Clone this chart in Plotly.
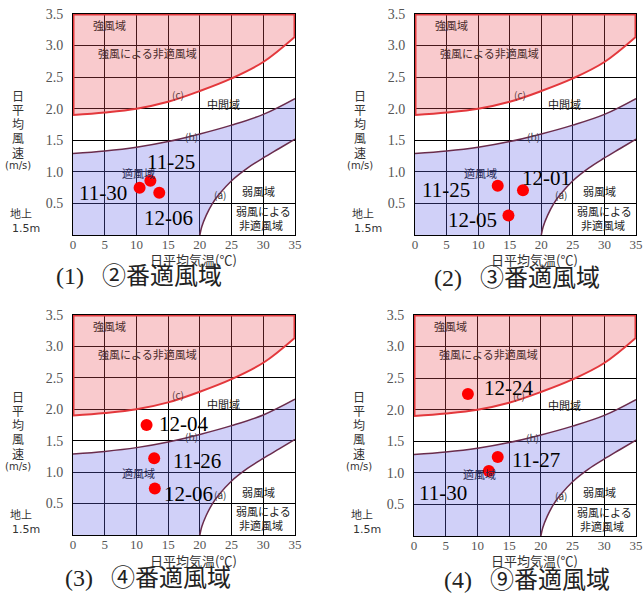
import plotly.graph_objects as go

# ---------------- data ----------------
curve_x = [0, 5, 10, 15, 20, 25, 30, 35]
curve_c_y = [1.90, 1.94, 2.00, 2.11, 2.28, 2.48, 2.74, 3.14]
curve_b_y = [1.29, 1.33, 1.39, 1.48, 1.60, 1.74, 1.91, 2.16]
curve_a_x = [20, 20.3, 21, 22, 23, 25, 27.5, 30, 32.5, 35]
curve_a_y = [0, 0.13, 0.31, 0.50, 0.64, 0.86, 1.06, 1.22, 1.37, 1.52]

x_ticks = [0, 5, 10, 15, 20, 25, 30, 35]
y_ticks = [0.5, 1.0, 1.5, 2.0, 2.5, 3.0, 3.5]

captions = ["(1)\u2002\u2005②番適風域", "(2)\u2002\u2005③番適風域",
            "(3)\u2002\u2005④番適風域", "(4)\u2002\u2005⑨番適風域"]

p1_dates = ["11-30", "11-25", "12-06"]
p1_temp = [10.5, 12.2, 13.6]
p1_wind = [0.75, 0.86, 0.67]

p2_dates = ["11-25", "12-01", "12-05"]
p2_temp = [13.1, 17.1, 14.8]
p2_wind = [0.78, 0.71, 0.31]

p3_dates = ["12-04", "11-26", "12-06"]
p3_temp = [11.6, 12.8, 12.9]
p3_wind = [1.75, 1.22, 0.74]

p4_dates = ["12-24", "11-27", "11-30"]
p4_temp = [8.5, 13.2, 11.8]
p4_wind = [2.25, 1.25, 1.03]

# label placement (positions, data units)
p1_lab = [(4.7, 0.67), (15.5, 1.15), (15.0, 0.27)]
p2_lab = [(4.9, 0.72), (20.9, 0.91), (9.1, 0.24)]
p3_lab = [(17.4, 1.76), (19.5, 1.17), (18.2, 0.65)]
p4_lab = [(14.9, 2.34), (19.2, 1.20), (4.6, 0.68)]

panels = [
    (p1_dates, p1_temp, p1_wind, p1_lab),
    (p2_dates, p2_temp, p2_wind, p2_lab),
    (p3_dates, p3_temp, p3_wind, p3_lab),
    (p4_dates, p4_temp, p4_wind, p4_lab),
]

# ---------------- layout geometry (pixels) ----------------
W, H = 644, 594
geom = [(73, 295, 14, 235), (415, 636, 14, 235), (73, 295, 315, 535), (414, 636, 315, 536)]
cap_pos = [(139, 276), (517, 278), (148, 578), (527, 580)]

def fx(px):
    return px / W

def fy(py):
    return 1 - py / H

RED_FILL = "rgba(235,80,90,0.30)"
BLUE_FILL = "rgba(100,100,232,0.30)"
RED_LINE = "#e3383c"
DARK_LINE = "#6a2c4c"
SERIF = "Liberation Serif, Times New Roman, serif"
JP = "Noto Sans CJK JP"

fig = go.Figure()
annotations = []
layout = dict(
    width=W, height=H,
    margin=dict(l=0, r=0, t=0, b=0, autoexpand=False),
    paper_bgcolor="white", plot_bgcolor="white",
    showlegend=False,
)

region_labels = [
    ("強風域", 5.8, 3.33, "#4a2a2a"),
    ("強風による非適風域", 11.8, 2.88, "#4a2a2a"),
    ("(c)", 16.6, 2.23, "#5a3a3a"),
    ("中間域", 23.7, 2.08, "#222222"),
    ("(b)", 18.7, 1.56, "#3a3a4a"),
    ("適風域", 10.3, 0.98, "#2a2a55"),
    ("(a)", 23.2, 0.64, "#3a3a3a"),
    ("弱風域", 29.2, 0.69, "#222222"),
    ("弱風による", 30.0, 0.38, "#222222"),
    ("非適風域", 29.7, 0.16, "#222222"),
]

def pann(text, px, py, size, family, color="#333333", xanchor="center"):
    return dict(text=text, x=fx(px), y=fy(py), xref="paper", yref="paper",
                xanchor=xanchor, yanchor="middle", showarrow=False,
                font=dict(family=family, size=size, color=color))

for i, (L, R, T, B) in enumerate(geom):
    n = "" if i == 0 else str(i + 1)
    xa, ya = "x" + n, "y" + n
    axis_common = dict(
        showgrid=True, gridcolor="black", gridwidth=1,
        showline=True, linecolor="black", linewidth=1, mirror=True,
        zeroline=False, layer="below traces",
        fixedrange=True,
    )
    layout["xaxis" + n] = dict(
        axis_common, domain=[fx(L), fx(R)], anchor=ya, range=[0, 35],
        tickvals=x_ticks, ticktext=[str(v) for v in x_ticks],
        tickfont=dict(family=SERIF, size=13, color="#555555"),
        ticks="", ticklabelstandoff=-3,
    )
    layout["yaxis" + n] = dict(
        axis_common, domain=[fy(B), fy(T)], anchor=xa, range=[0, 3.5],
        tickvals=y_ticks, ticktext=["%.1f" % v for v in y_ticks],
        tickfont=dict(family=SERIF, size=14, color="#555555"),
        ticks="outside", ticklen=6, tickcolor="rgba(0,0,0,0)",
    )

    # red (strong wind) region
    fig.add_trace(go.Scatter(x=[curve_x[0], curve_x[-1]], y=[3.5, 3.5], mode="lines",
                             line=dict(width=0), xaxis=xa, yaxis=ya, hoverinfo="skip"))
    fig.add_trace(go.Scatter(x=curve_x, y=curve_c_y, mode="lines", fill="tonexty",
                             fillcolor=RED_FILL, line=dict(color=RED_LINE, width=2, shape="spline"),
                             xaxis=xa, yaxis=ya, hoverinfo="skip"))
    fig.add_trace(go.Scatter(x=[curve_x[0], curve_x[0], curve_x[-1], curve_x[-1]],
                             y=[curve_c_y[0], 3.5, 3.5, curve_c_y[-1]], mode="lines",
                             line=dict(color=RED_LINE, width=3), xaxis=xa, yaxis=ya, hoverinfo="skip"))
    # blue (suitable wind) region
    fig.add_trace(go.Scatter(x=[0] + curve_a_x, y=[0] + curve_a_y, mode="lines",
                             line=dict(width=0), xaxis=xa, yaxis=ya, hoverinfo="skip"))
    fig.add_trace(go.Scatter(x=curve_x, y=curve_b_y, mode="lines", fill="tonexty",
                             fillcolor=BLUE_FILL, line=dict(color=DARK_LINE, width=1.5, shape="spline"),
                             xaxis=xa, yaxis=ya, hoverinfo="skip"))
    fig.add_trace(go.Scatter(x=curve_a_x, y=curve_a_y, mode="lines",
                             line=dict(color=DARK_LINE, width=1.5, shape="spline"),
                             xaxis=xa, yaxis=ya, hoverinfo="skip"))

    # region labels
    for txt, x, y, col in region_labels:
        annotations.append(dict(text=txt, x=x, y=y, xref=xa, yref=ya, showarrow=False,
                                xanchor="center", yanchor="middle",
                                font=dict(family=JP, size=11 if not txt.startswith("(") else 10, color=col)))

    # data points
    dates, temps, winds, labs = panels[i]
    fig.add_trace(go.Scatter(x=temps, y=winds, mode="markers", text=dates,
                             marker=dict(color="#ff0000", size=12, line=dict(width=0)),
                             xaxis=xa, yaxis=ya, cliponaxis=False))
    for d, (lx, ly) in zip(dates, labs):
        annotations.append(dict(text=d, x=lx, y=ly, xref=xa, yref=ya, showarrow=False,
                                xanchor="center", yanchor="middle",
                                font=dict(family=SERIF, size=21, color="black")))

    # y-axis title (vertical stacked)
    for k, ch in enumerate("日平均風速"):
        annotations.append(pann(ch, L - 55, T + 81 + k * 14.3, 12, JP))
    annotations.append(pann("(m/s)", L - 55, T + 151, 10, "DejaVu Sans"))
    annotations.append(pann("地上", L - 65, T + 199, 11, JP, xanchor="left"))
    annotations.append(pann("1.5m", L - 63, T + 214, 11, "DejaVu Sans", xanchor="left"))
    # x-axis title
    annotations.append(pann("日平均気温(℃)", (L + R) / 2 + 9, T + 245, 13, JP))
    # caption
    cx, cy = cap_pos[i]
    annotations.append(pann(captions[i], cx, cy, 24, SERIF + ", " + JP, color="#222222"))

layout["annotations"] = annotations
fig.update_layout(**layout)
fig.write_html(
    "out.html",
    config={"displayModeBar": False},
    post_script="document.body.style.margin='0';document.body.style.overflow='hidden';",
)
